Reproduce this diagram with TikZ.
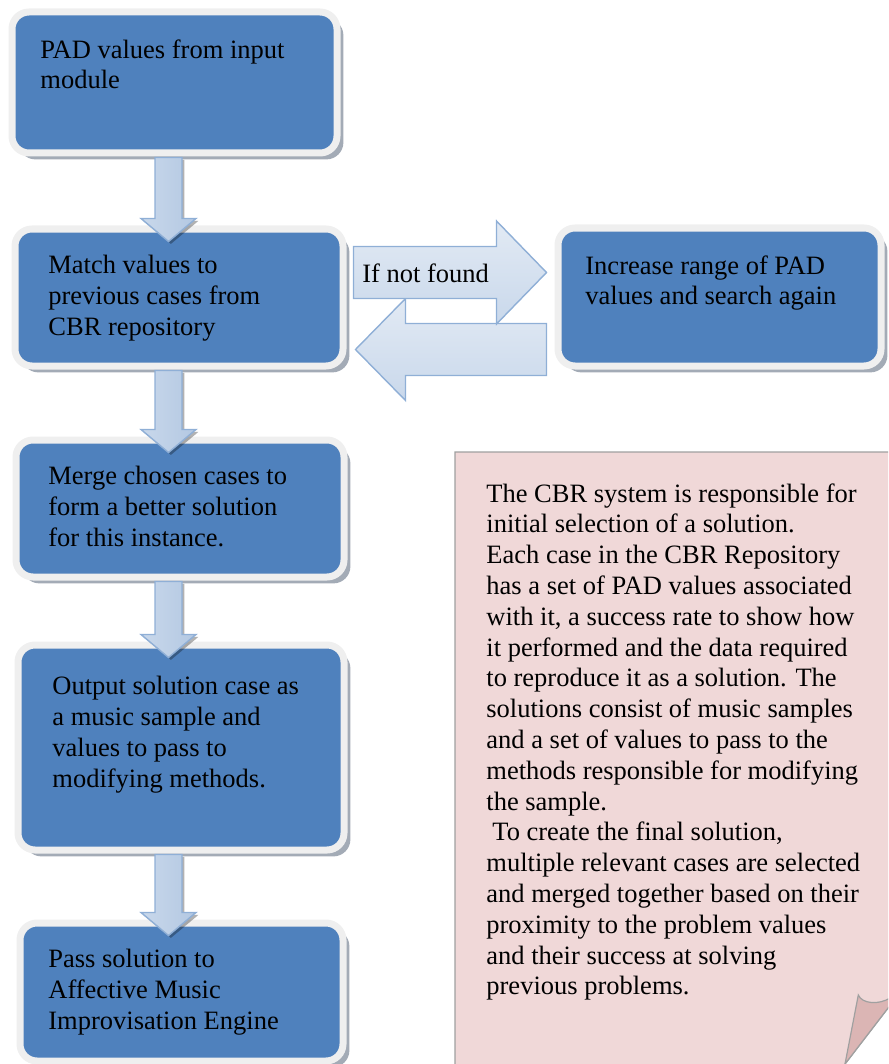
\documentclass[tikz,border=0pt]{standalone}
\usepackage{fontspec}
\setmainfont{Liberation Serif}
\usetikzlibrary{calc,shadows}
\definecolor{boxblue}{HTML}{4F81BD}
\definecolor{framegrey}{HTML}{EFEFEF}
\definecolor{shadowgrey}{HTML}{A3ABB6}
\definecolor{arrowlight}{HTML}{E2EAF4}
\definecolor{arrowmid}{HTML}{C9D8EB}
\definecolor{arrowdark}{HTML}{B3C8E2}
\definecolor{arrowedge}{HTML}{8FAFD6}
\definecolor{notepink}{HTML}{F0D8D8}
\definecolor{curlpink}{HTML}{DBB5B4}
\definecolor{noteedge}{HTML}{A0A0A0}
\tikzset{
    stage/.style={
        rectangle,
        rounded corners=8.5pt,
        inner sep=0pt,
        fill=boxblue,
        draw=framegrey,
        line width=3.5pt,
        drop shadow={shadow xshift=3.2pt, shadow yshift=-3.2pt, fill=shadowgrey, opacity=1},
    },
    boxtext/.style={
        anchor=north west,
        align=left,
        inner sep=0pt,
        font=\fontsize{13.25}{15.4}\selectfont,
    },
    downarrow/.style={
        draw=arrowedge,
        line width=0.7pt,
        left color=arrowmid,
        middle color=arrowlight,
        right color=arrowdark,
        drop shadow={shadow xshift=1.2pt, shadow yshift=-1.2pt, fill=black, opacity=.3},
    },
    sidearrow/.style={
        draw=arrowedge,
        line width=0.7pt,
        top color=arrowlight,
        bottom color=arrowmid,
    },
    notepaper/.style={
        fill=notepink,
        draw=noteedge,
        line width=0.6pt,
    },
    curl/.style={
        fill=curlpink,
        draw=noteedge,
        line width=0.6pt,
    },
}
\begin{document}
\begin{tikzpicture}[x=0.5pt, y=-0.5pt]
    \useasboundingbox (0,0) rectangle (888,1064);
    \clip (0,0) rectangle (888,1064);

    % flow boxes
    \node[stage, minimum width=162.5pt, minimum height=70.5pt] (input) at (174.5,82.5) {};
    \node[stage, minimum width=164pt, minimum height=68.5pt] (match) at (179,297.5) {};
    \node[stage, minimum width=161.5pt, minimum height=69pt] (increase) at (719.5,297) {};
    \node[stage, minimum width=164pt, minimum height=68.5pt] (merge) at (180,508.5) {};
    \node[stage, minimum width=163pt, minimum height=102.5pt] (output) at (181,747.5) {};
    \node[stage, minimum width=161.5pt, minimum height=69pt] (pass) at (181.5,992) {};

    \node[boxtext] (inputtxt) at (40,39) {PAD values from input\\module};
    \node[boxtext] (matchtxt) at (48,255) {Match values to\\previous cases from\\CBR repository};
    \node[boxtext] (increasetxt) at (585,255) {Increase range of PAD\\values and search again};
    \node[boxtext] (mergetxt) at (48,466) {Merge chosen cases to\\form a better solution\\for this instance.};
    \node[boxtext] (outputtxt) at (52,676) {Output solution case as\\a music sample and\\values to pass to\\modifying methods.};
    \node[boxtext] (passtxt) at (48,949) {Pass solution to\\Affective Music\\Improvisation Engine};

    % block arrows down the left column
    \coordinate (col) at (168.5,0);
    \foreach \from/\to in {input/match, match/merge, merge/output, output/pass}
        \path[downarrow]
            ($(\from.south -| col)+(-13.5,1)$) -- ($(\to.north -| col)+(-13.5,-7)$)
            -- ++(-14,0) -- ($(\to.north -| col)+(0,16)$)
            -- ($(\to.north -| col)+(27.5,-7)$) -- ++(-14,0)
            -- ($(\from.south -| col)+(13.5,1)$) -- cycle;

    % retry loop
    \coordinate (fwdtail) at ($(match.east)+(7,-25)$);
    \coordinate (fwdtip) at ($(increase.west)+(-8,-24.5)$);
    \coordinate (backtail) at ($(increase.west)+(-8,52.5)$);
    \coordinate (backtip) at ($(match.east)+(9,52)$);
    \path[sidearrow]
        ($(backtail)+(0,-26)$) -- ($(backtip)+(50,-26)$) -- ($(backtip)+(50,-51)$)
        -- (backtip) -- ($(backtip)+(50,51)$) -- ($(backtip)+(50,26)$)
        -- ($(backtail)+(0,26)$) -- cycle;
    \path[sidearrow]
        ($(fwdtail)+(0,-26)$) -- ($(fwdtip)+(-50,-26)$) -- ($(fwdtip)+(-50,-51.5)$)
        -- (fwdtip) -- ($(fwdtip)+(-50,51.5)$) -- ($(fwdtip)+(-50,26)$)
        -- ($(fwdtail)+(0,26)$) -- cycle;
    \node[boxtext] (ifnot) at (362,263) {If not found};

    % note with curled corner
    \draw[notepaper] (455,452) -- (892,452) -- (892,1003) -- (842,1068) -- (455,1068) -- cycle;
    \draw[curl] (845,1064) -- (858.3,995) .. controls (862,1004) and (879,1005) .. (890,998)
        -- (890,1005.4) -- cycle;
    \node[boxtext] (notetxt) at (486,483) {The CBR system is responsible for\\
        initial selection of a solution.\\
        Each case in the CBR Repository\\
        has a set of PAD values associated\\
        with it, a success rate to show how\\
        it performed and the data required\\
        to reproduce it as a solution. The\\
        solutions consist of music samples\\
        and a set of values to pass to the\\
        methods responsible for modifying\\
        the sample.\\
        \hspace*{3pt}To create the final solution,\\
        multiple relevant cases are selected\\
        and merged together based on their\\
        proximity to the problem values\\
        and their success at solving\\
        previous problems.};
\end{tikzpicture}
\end{document}
